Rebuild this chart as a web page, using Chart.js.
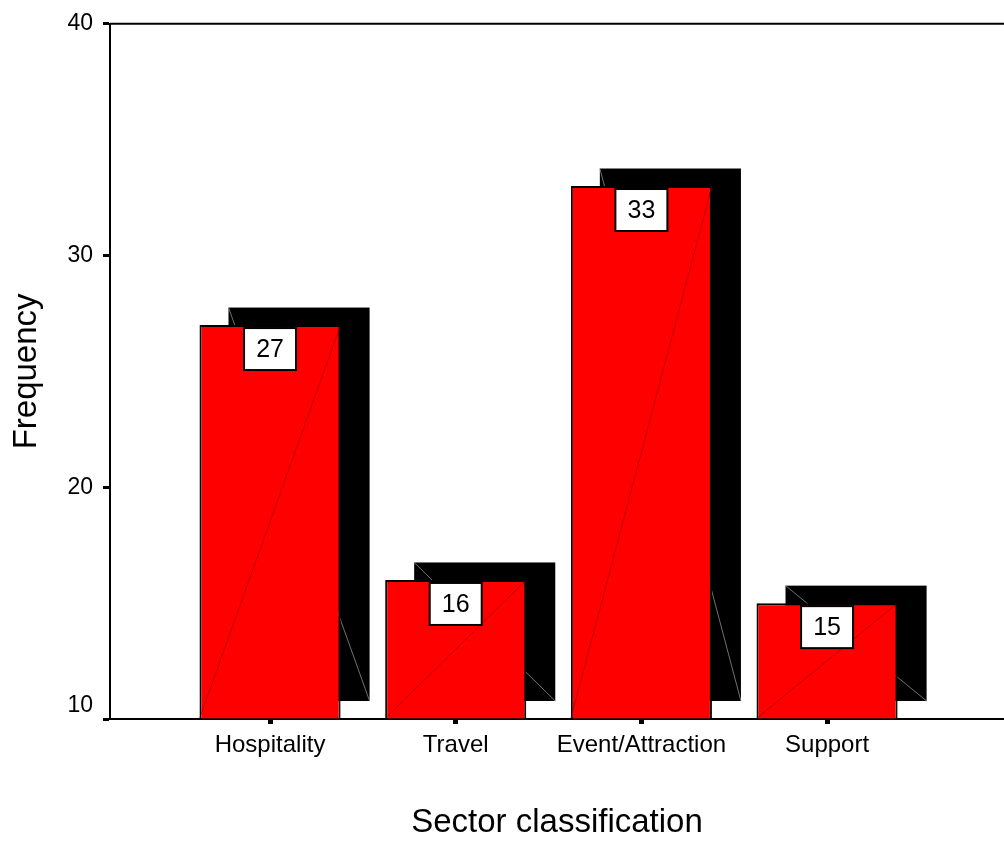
<!DOCTYPE html>
<html>
<head>
<meta charset="utf-8">
<script src="https://cdn.jsdelivr.net/npm/chart.js@4"></script>
<style>
  body { margin: 0; background: white; }
  #wrap { width: 1004px; height: 843px; }
</style>
</head>
<body>
<div id="wrap"><canvas id="sector-chart"></canvas></div>
<script>
        var sectors = ['Hospitality', 'Travel', 'Event/Attraction', 'Support'];
        var counts = [27, 16, 33, 15];
        var yTicks = [10, 20, 30, 40];

        const FONT = "'Liberation Sans', Arial, sans-serif";

        // black offset shadow behind each bar + diagonal artefacts
        var shadowPlugin = {
            id: 'barShadow',
            beforeDatasetsDraw: (chart) => {
                const {ctx} = chart;
                const meta = chart.getDatasetMeta(0);
                ctx.save();
                meta.data.forEach((bar) => {
                    const p = bar.getProps(['x', 'y', 'base', 'width'], true);
                    const l = p.x - p.width / 2 + 29, t = p.y - 17.5;
                    const h = p.base - p.y;
                    ctx.fillStyle = 'black';
                    ctx.fillRect(l, t, p.width, h);
                    ctx.strokeStyle = 'rgba(140,140,140,0.8)';
                    ctx.lineWidth = 1;
                    ctx.beginPath();
                    ctx.moveTo(l, t);
                    ctx.lineTo(l + p.width, t + h);
                    ctx.stroke();
                });
                ctx.restore();
            },
            afterDatasetsDraw: (chart) => {
                const {ctx} = chart;
                const meta = chart.getDatasetMeta(0);
                ctx.save();
                meta.data.forEach((bar, i) => {
                    const p = bar.getProps(['x', 'y', 'base', 'width'], true);
                    ctx.strokeStyle = 'rgba(120,0,0,0.5)';
                    ctx.lineWidth = 1;
                    ctx.beginPath();
                    ctx.moveTo(p.x - p.width / 2, p.base);
                    ctx.lineTo(p.x + p.width / 2, p.y);
                    ctx.stroke();
                    // value box
                    ctx.fillStyle = 'white';
                    ctx.strokeStyle = 'black';
                    ctx.lineWidth = 2;
                    ctx.fillRect(p.x - 26, p.y + 3, 52, 42);
                    ctx.strokeRect(p.x - 26, p.y + 3, 52, 42);
                    ctx.fillStyle = 'black';
                    ctx.font = '25px ' + FONT;
                    ctx.textAlign = 'center';
                    ctx.textBaseline = 'middle';
                    ctx.fillText(String(counts[i]), p.x, p.y + 25);
                });
                ctx.restore();
            },
            afterDraw: (chart) => {
                const {ctx, chartArea} = chart;
                ctx.save();
                ctx.strokeStyle = 'black';
                ctx.lineWidth = 2;
                ctx.beginPath();
                ctx.moveTo(chartArea.left, chartArea.top);
                ctx.lineTo(chartArea.right, chartArea.top);
                ctx.stroke();
                ctx.restore();
            }
        };

        const el = document.getElementById('sector-chart');
        new Chart(el, {
            type: 'bar',
            data: {
                datasets: [{
                    label: 'Frequency',
                    data: sectors.map((s, i) => ({x: i + 1, y: counts[i]})),
                    backgroundColor: 'rgb(255,0,0)',
                    borderColor: 'black',
                    borderWidth: 2,
                    borderSkipped: 'bottom',
                    base: 10,
                    categoryPercentage: 1,
                    barPercentage: 0.76
                }]
            },
            options: {
                responsive: true,
                maintainAspectRatio: false,
                animation: false,
                layout: { padding: { top: 20, right: 0, left: 0, bottom: 0 } },
                plugins: {
                    legend: { display: false },
                    tooltip: { enabled: false }
                },
                scales: {
                    x: {
                        type: 'linear',
                        offset: false,
                        min: 0.138,
                        max: 4.953,
                        afterBuildTicks: (scale) => {
                            scale.ticks = sectors.map((s, i) => ({value: i + 1}));
                        },
                        afterFit: (scale) => { scale.height = 124; },
                        grid: {
                            offset: false,
                            drawOnChartArea: false,
                            color: 'black',
                            tickLength: 5,
                            tickWidth: 5
                        },
                        border: { color: 'black', width: 2 },
                        ticks: {
                            color: 'black',
                            autoSkip: false,
                            maxRotation: 0,
                            padding: 7,
                            font: { family: FONT, size: 24 },
                            callback: (v) => sectors[v - 1]
                        },
                        title: {
                            display: true,
                            text: 'Sector classification',
                            color: 'black',
                            font: { family: FONT, size: 33 },
                            padding: { top: 0, bottom: 0 }
                        }
                    },
                    y: {
                        min: 10,
                        max: 40,
                        afterBuildTicks: (scale) => {
                            scale.ticks = yTicks.map((v) => ({value: v}));
                        },
                        afterFit: (scale) => { scale.width = 110; },
                        grid: {
                            drawOnChartArea: false,
                            color: 'black',
                            tickLength: 7,
                            tickWidth: 3
                        },
                        border: { color: 'black', width: 2 },
                        ticks: {
                            color: 'black',
                            padding: 10,
                            font: { family: FONT, size: 23 },
                            // lowest label sits just above its tick, as in the original
                            callback: (v) => v === yTicks[0] ? [String(v), ''] : String(v)
                        },
                        title: {
                            display: true,
                            text: 'Frequency',
                            color: 'black',
                            font: { family: FONT, size: 33 },
                            padding: { top: 7, bottom: 0 }
                        }
                    }
                }
            },
            plugins: [shadowPlugin]
        });
</script>
</body>
</html>
